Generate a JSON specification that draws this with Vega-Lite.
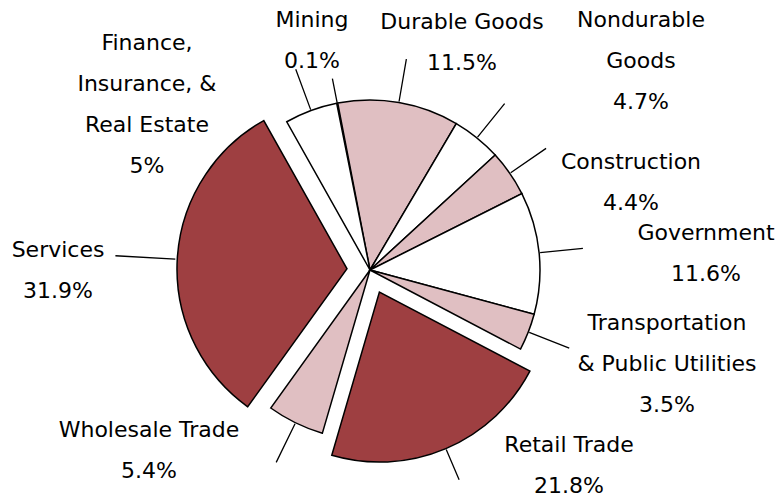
{
  "$schema": "https://vega.github.io/schema/vega-lite/v6.json",
  "width": 740,
  "height": 460,
  "autosize": "none",
  "padding": {"left": 0, "top": 40, "right": 39, "bottom": 0},
  "background": "white",
  "view": {"stroke": null},
  "config": {"text": {"font": "DejaVu Sans", "fontSize": 22, "lineHeight": 41, "lineBreak": "|", "color": "black", "align": "center", "baseline": "middle"}},
  "data": {"values": [
    {"sector": "Mining", "label": "Mining", "pct": 0.1, "tier": "d"},
    {"sector": "Durable Goods", "label": "Durable Goods", "pct": 11.5, "tier": "b"},
    {"sector": "Nondurable Goods", "label": "Nondurable|Goods", "pct": 4.7, "tier": "c"},
    {"sector": "Construction", "label": "Construction", "pct": 4.4, "tier": "b"},
    {"sector": "Government", "label": "Government", "pct": 11.6, "tier": "c"},
    {"sector": "Transportation & Public Utilities", "label": "Transportation|& Public Utilities", "pct": 3.5, "tier": "b"},
    {"sector": "Retail Trade", "label": "Retail Trade", "pct": 21.8, "tier": "a"},
    {"sector": "Wholesale Trade", "label": "Wholesale Trade", "pct": 5.4, "tier": "b"},
    {"sector": "Services", "label": "Services", "pct": 31.9, "tier": "a"},
    {"sector": "Finance, Insurance, & Real Estate", "label": "Finance,|Insurance, &|Real Estate", "pct": 5, "tier": "c"}
  ]},
  "transform": [
    {"window": [{"op": "row_number", "as": "ord"}]},
    {"stack": "pct", "groupby": [], "sort": [{"field": "ord", "order": "ascending"}], "as": ["t0", "t1"]},
    {"calculate": "(datum.t0 + datum.t1) / 2", "as": "mid"},
    {"calculate": "datum.label + '|' + datum.pct + '%'", "as": "txt"}
  ],
  "layer": [
    {
      "transform": [{"filter": "datum.sector != 'Services' && datum.sector != 'Retail Trade'"}],
      "mark": {"type": "arc", "radius": 170, "stroke": "black", "strokeWidth": 1.5},
      "encoding": {
        "theta": {"field": "t0", "type": "quantitative", "stack": null, "scale": {"domain": [0, 99.9], "range": [-0.1972, 6.086]}},
        "theta2": {"field": "t1"},
        "fill": {"field": "tier", "type": "nominal", "legend": null, "scale": {"domain": ["a", "b", "c", "d"], "range": ["#9E3F41", "#E0BFC2", "#FFFFFF", "#000080"]}}
      }
    },
    {
      "transform": [{"filter": "datum.sector == 'Services'"}],
      "mark": {"type": "arc", "radius": 170, "stroke": "black", "strokeWidth": 1.5, "xOffset": -23, "yOffset": -1.2},
      "encoding": {
        "theta": {"field": "t0", "type": "quantitative", "stack": null, "scale": {"domain": [0, 99.9], "range": [-0.1972, 6.086]}},
        "theta2": {"field": "t1"},
        "fill": {"field": "tier", "type": "nominal", "legend": null, "scale": {"domain": ["a", "b", "c", "d"], "range": ["#9E3F41", "#E0BFC2", "#FFFFFF", "#000080"]}}
      }
    },
    {
      "transform": [{"filter": "datum.sector == 'Retail Trade'"}],
      "mark": {"type": "arc", "radius": 170, "stroke": "black", "strokeWidth": 1.5, "xOffset": 9.4, "yOffset": 22.1},
      "encoding": {
        "theta": {"field": "t0", "type": "quantitative", "stack": null, "scale": {"domain": [0, 99.9], "range": [-0.1972, 6.086]}},
        "theta2": {"field": "t1"},
        "fill": {"field": "tier", "type": "nominal", "legend": null, "scale": {"domain": ["a", "b", "c", "d"], "range": ["#9E3F41", "#E0BFC2", "#FFFFFF", "#000080"]}}
      }
    },
    {
      "transform": [{"filter": "datum.sector != 'Services' && datum.sector != 'Retail Trade' && datum.sector != 'Mining'"}],
      "mark": {"type": "arc", "radius": 214, "radius2": 171, "stroke": "black", "strokeWidth": 1.3, "fill": null},
      "encoding": {
        "theta": {"field": "mid", "type": "quantitative", "stack": null, "scale": {"domain": [0, 99.9], "range": [-0.1972, 6.086]}},
        "theta2": {"field": "mid"}
      }
    },
    {
      "transform": [{"filter": "datum.sector == 'Mining'"}],
      "mark": {"type": "arc", "radius": 195, "radius2": 171, "stroke": "black", "strokeWidth": 1.3, "fill": null},
      "encoding": {
        "theta": {"field": "mid", "type": "quantitative", "stack": null, "scale": {"domain": [0, 99.9], "range": [-0.1972, 6.086]}},
        "theta2": {"field": "mid"}
      }
    },
    {
      "transform": [{"filter": "datum.sector == 'Services'"}],
      "mark": {"type": "arc", "radius": 255, "radius2": 195, "stroke": "black", "strokeWidth": 1.3, "fill": null},
      "encoding": {
        "theta": {"field": "mid", "type": "quantitative", "stack": null, "scale": {"domain": [0, 99.9], "range": [-0.1972, 6.086]}},
        "theta2": {"field": "mid"}
      }
    },
    {
      "transform": [{"filter": "datum.sector == 'Retail Trade'"}],
      "mark": {"type": "arc", "radius": 228, "radius2": 195, "stroke": "black", "strokeWidth": 1.3, "fill": null},
      "encoding": {
        "theta": {"field": "mid", "type": "quantitative", "stack": null, "scale": {"domain": [0, 99.9], "range": [-0.1972, 6.086]}},
        "theta2": {"field": "mid"}
      }
    },
    {"transform": [{"filter": "datum.sector == 'Mining'"}], "mark": {"type": "text", "radius": 256.6, "thetaOffset": -0.034},
     "encoding": {"theta": {"field": "mid", "type": "quantitative", "stack": null, "scale": {"domain": [0, 99.9], "range": [-0.1972, 6.086]}}, "text": {"field": "txt"}}},
    {"transform": [{"filter": "datum.sector == 'Durable Goods'"}], "mark": {"type": "text", "radius": 264.5, "thetaOffset": 0.1845},
     "encoding": {"theta": {"field": "mid", "type": "quantitative", "stack": null, "scale": {"domain": [0, 99.9], "range": [-0.1972, 6.086]}}, "text": {"field": "txt"}}},
    {"transform": [{"filter": "datum.sector == 'Nondurable Goods'"}], "mark": {"type": "text", "radius": 368.7, "thetaOffset": 0.1454},
     "encoding": {"theta": {"field": "mid", "type": "quantitative", "stack": null, "scale": {"domain": [0, 99.9], "range": [-0.1972, 6.086]}}, "text": {"field": "txt"}}},
    {"transform": [{"filter": "datum.sector == 'Construction'"}], "mark": {"type": "text", "radius": 282.5, "thetaOffset": 0.2117},
     "encoding": {"theta": {"field": "mid", "type": "quantitative", "stack": null, "scale": {"domain": [0, 99.9], "range": [-0.1972, 6.086]}}, "text": {"field": "txt"}}},
    {"transform": [{"filter": "datum.sector == 'Government'"}], "mark": {"type": "text", "radius": 338, "thetaOffset": -0.0084},
     "encoding": {"theta": {"field": "mid", "type": "quantitative", "stack": null, "scale": {"domain": [0, 99.9], "range": [-0.1972, 6.086]}}, "text": {"field": "txt"}}},
    {"transform": [{"filter": "datum.sector == 'Transportation & Public Utilities'"}], "mark": {"type": "text", "radius": 301.7, "thetaOffset": -0.1969},
     "encoding": {"theta": {"field": "mid", "type": "quantitative", "stack": null, "scale": {"domain": [0, 99.9], "range": [-0.1972, 6.086]}}, "text": {"field": "txt"}}},
    {"transform": [{"filter": "datum.sector == 'Retail Trade'"}], "mark": {"type": "text", "radius": 265, "thetaOffset": -0.448},
     "encoding": {"theta": {"field": "mid", "type": "quantitative", "stack": null, "scale": {"domain": [0, 99.9], "range": [-0.1972, 6.086]}}, "text": {"field": "txt"}}},
    {"transform": [{"filter": "datum.sector == 'Wholesale Trade'"}], "mark": {"type": "text", "radius": 272.8, "thetaOffset": 0.4904},
     "encoding": {"theta": {"field": "mid", "type": "quantitative", "stack": null, "scale": {"domain": [0, 99.9], "range": [-0.1972, 6.086]}}, "text": {"field": "txt"}}},
    {"transform": [{"filter": "datum.sector == 'Services'"}], "mark": {"type": "text", "radius": 312.6, "thetaOffset": 0.0082},
     "encoding": {"theta": {"field": "mid", "type": "quantitative", "stack": null, "scale": {"domain": [0, 99.9], "range": [-0.1972, 6.086]}}, "text": {"field": "txt"}}},
    {"transform": [{"filter": "datum.sector == 'Finance, Insurance, & Real Estate'"}], "mark": {"type": "text", "radius": 318.2, "thetaOffset": -0.4222},
     "encoding": {"theta": {"field": "mid", "type": "quantitative", "stack": null, "scale": {"domain": [0, 99.9], "range": [-0.1972, 6.086]}}, "text": {"field": "txt"}}}
  ]
}
